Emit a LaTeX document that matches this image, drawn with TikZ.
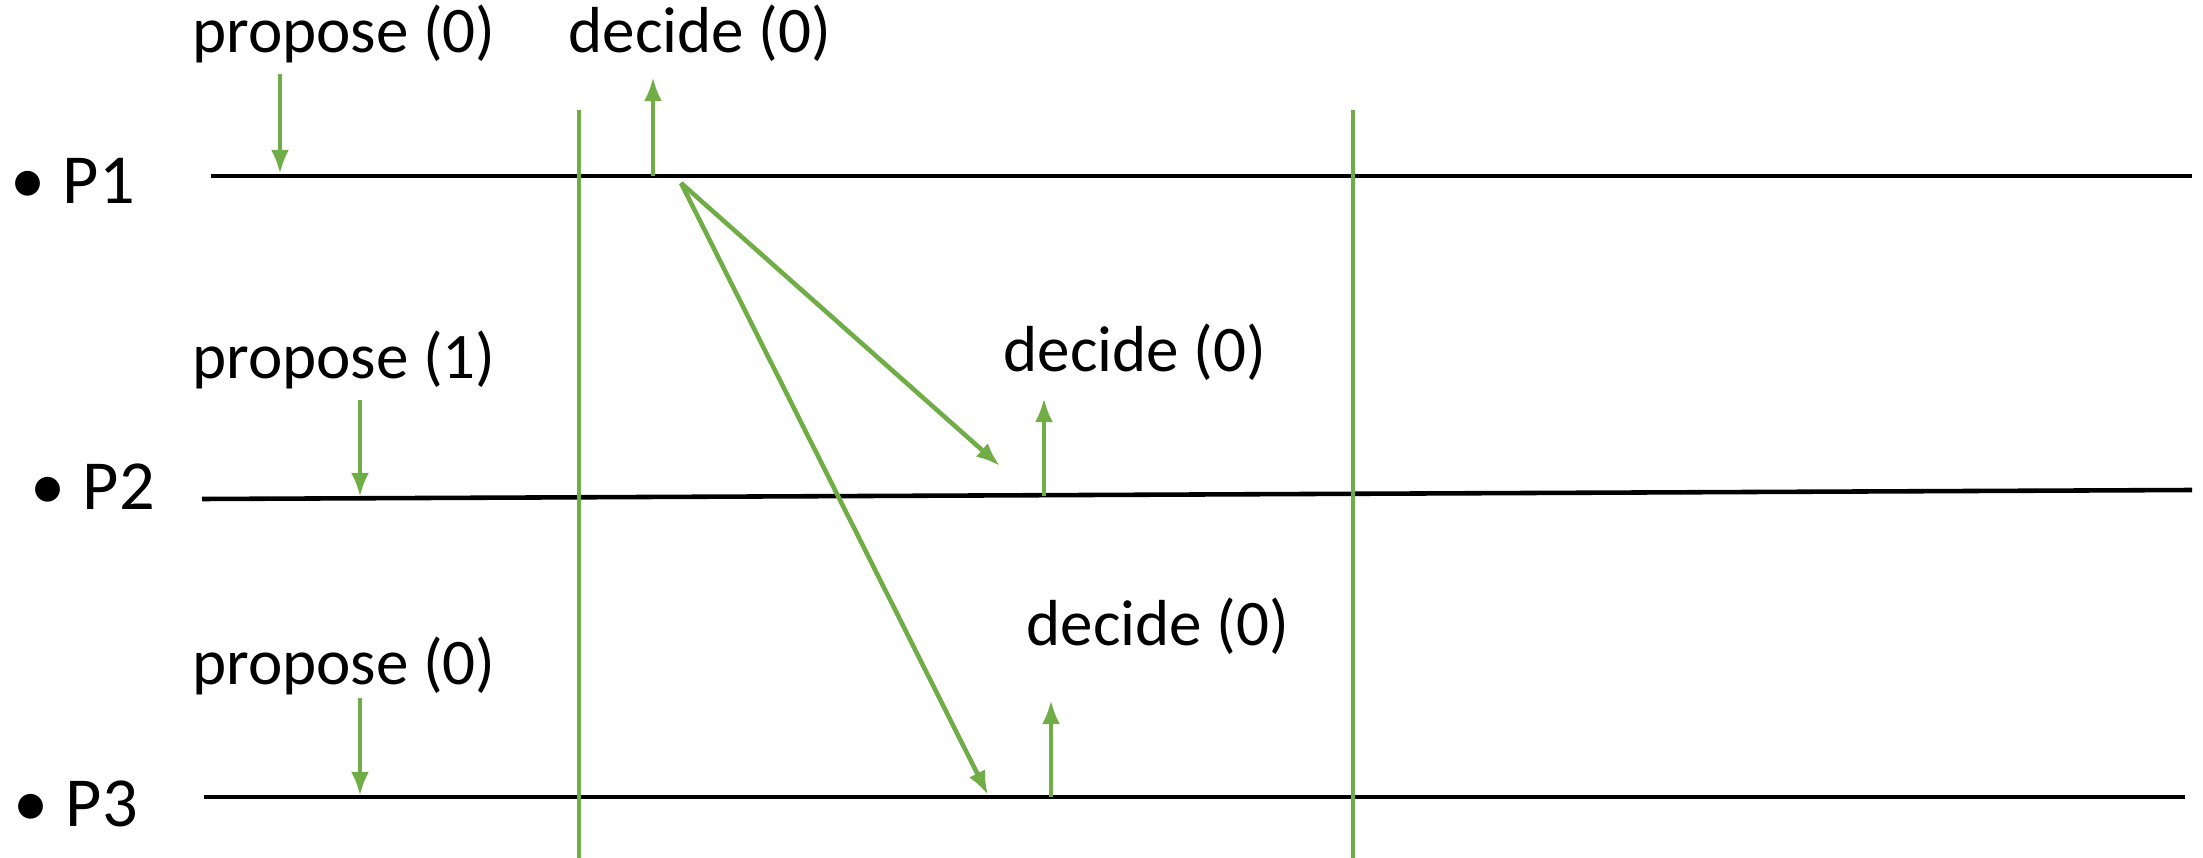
\documentclass[tikz,border=0pt]{standalone}
\usepackage{fontspec}
\setmainfont{Carlito}
\usetikzlibrary{arrows.meta,positioning,calc}
\definecolor{msgreen}{RGB}{112,173,71}

\begin{document}
\begin{tikzpicture}[
		x=0.01cm, y=-0.01cm,
		proc/.style={draw=black, line width=1.3pt},
		lbl/.style={anchor=base, inner sep=0pt, font=\fontsize{18.5}{22}\selectfont},
		pname/.style={anchor=base west, inner sep=0pt, font=\fontsize{20}{24}\selectfont},
		round/.style={draw=msgreen, line width=1.2pt},
		arr/.style={-{Latex[length=0.24cm, width=0.18cm]}, draw=msgreen, line width=1.3pt}
		]
		\useasboundingbox (0,0) rectangle (2203,858);
		
		% ── Processes ──
		\node[pname] (n1) at (10,204) {\textbullet\hspace{0.17cm}P1};
		\node[pname] (n2) at (30,509) {\textbullet\hspace{0.17cm}P2};
		\node[pname] (n3) at (13,826) {\textbullet\hspace{0.17cm}P3};
		\coordinate (p1s) at (211,176);  \coordinate (p1e) at (2192,176);
		\coordinate (p2s) at (202,499);  \coordinate (p2e) at (2192,490);
		\coordinate (p3s) at (204,797);  \coordinate (p3e) at (2185,797);
		\draw[proc] (p1s) -- (p1e);
		\draw[proc] (p2s) -- (p2e);
		\draw[proc] (p3s) -- (p3e);
		
		% ── Round boundaries ──
		\coordinate (r1t) at (579,110);  \coordinate (r1b) at (579,858);
		\coordinate (r2t) at (1353,110); \coordinate (r2b) at (1353,858);
		\draw[round] (r1t) -- (r1b);
		\draw[round] (r2t) -- (r2b);
		
		% ── Proposals ──
		\node[lbl] (prop1) at (344,53) {propose (0)};
		\node[lbl] (prop2) at (344,379) {propose (1)};
		\node[lbl] (prop3) at (344,684) {propose (0)};
		\coordinate (a1s) at (280,74);  \coordinate (a1e) at (280,174);
		\coordinate (a2s) at (360,400); \coordinate (a2e) at (360,497);
		\coordinate (a3s) at (360,698); \coordinate (a3e) at (360,796);
		\draw[arr] (a1s) -- (a1e);
		\draw[arr] (a2s) -- (a2e);
		\draw[arr] (a3s) -- (a3e);
		
		% ── Decisions ──
		\node[lbl] (dec1) at (700,53) {decide (0)};
		\node[lbl] (dec2) at (1135,372) {decide (0)};
		\node[lbl] (dec3) at (1158,645) {decide (0)};
		\coordinate (d1s) at (653,176);  \coordinate (d1e) at (653,77);
		\coordinate (d2s) at (1044,496); \coordinate (d2e) at (1044,398);
		\coordinate (d3s) at (1051,797); \coordinate (d3e) at (1051,700);
		\draw[arr] (d1s) -- (d1e);
		\draw[arr] (d2s) -- (d2e);
		\draw[arr] (d3s) -- (d3e);
		
		% Messages from P1
		\coordinate (m0) at (681,183);
		\coordinate (m2) at (1000,466);
		\coordinate (m3) at (988,795);
		\draw[arr] (m0) -- (m2);
		\draw[arr] (m0) -- (m3);
	\end{tikzpicture}
\end{document}
